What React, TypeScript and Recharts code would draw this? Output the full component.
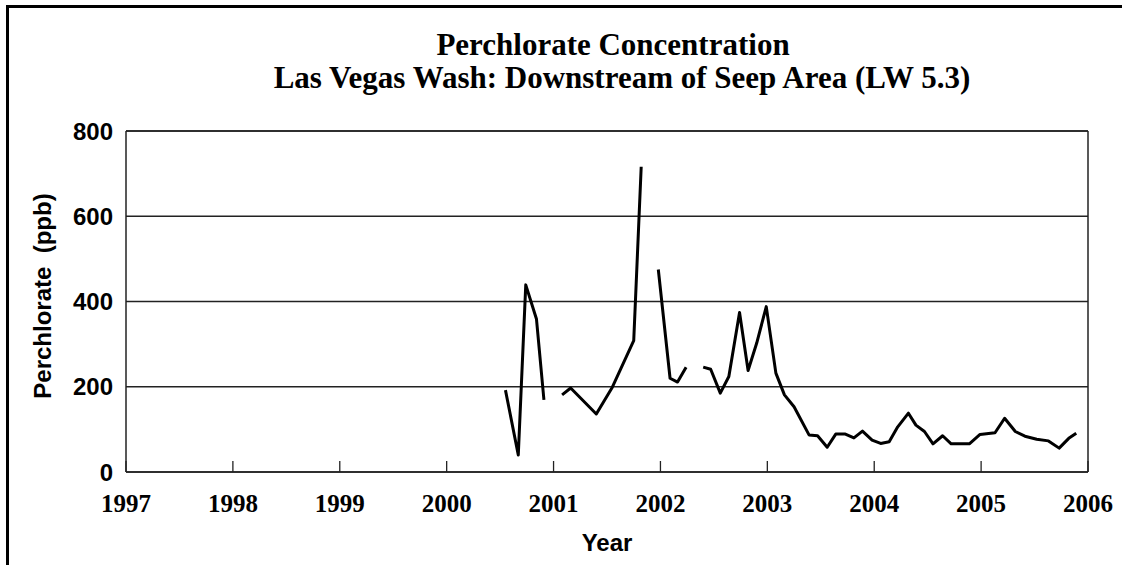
import { LineChart, Line, XAxis, YAxis, CartesianGrid, ReferenceLine } from 'recharts';

// sample dates (decimal year) and perchlorate readings, null = gap in record
const years = [
  2000.55, 2000.67, 2000.74, 2000.84, 2000.91, 2001.0,
  2001.08, 2001.16, 2001.4, 2001.55, 2001.75, 2001.82, 2001.9,
  2001.98, 2002.09, 2002.16, 2002.24, 2002.32,
  2002.4, 2002.47, 2002.56, 2002.64, 2002.74, 2002.82, 2002.9, 2002.99,
  2003.08, 2003.16, 2003.25, 2003.39, 2003.47, 2003.56, 2003.64, 2003.73,
  2003.81, 2003.89, 2003.98, 2004.06, 2004.14, 2004.22, 2004.32, 2004.39,
  2004.47, 2004.55, 2004.64, 2004.72, 2004.89, 2004.99, 2005.13, 2005.22,
  2005.32, 2005.41, 2005.52, 2005.63, 2005.73, 2005.82, 2005.89,
];
const ppb: (number | null)[] = [
  192, 40, 439, 359, 169, null,
  181, 197, 136, 199, 308, 716, null,
  475, 220, 211, 246, null,
  246, 241, 185, 224, 374, 238, 302, 388,
  232, 181, 153, 87, 85, 58, 89, 89,
  80, 96, 75, 67, 71, 106, 138, 110,
  95, 66, 85, 66, 66, 88, 92, 126,
  95, 84, 77, 73, 56, 79, 91,
];

const yearTicks = [1997, 1998, 1999, 2000, 2001, 2002, 2003, 2004, 2005, 2006];
const ppbTicks = [0, 200, 400, 600, 800];
const ppbMinorTicks = [100, 300, 500, 700];

const data = years.map((year, i) => ({ year, ppb: ppb[i] }));

const EmptyTick = () => <g />;

export default function App() {
  return (
    <div style={{ position: 'absolute', left: 0, top: 0, width: 1122, height: 565, background: '#fff' }}>
      {/* cropped outer frame: only top and left edges visible */}
      <div
        style={{
          position: 'absolute', left: 6, top: 5, width: 1116, height: 560,
          borderTop: '3px solid #000', borderLeft: '3px solid #000', boxSizing: 'border-box',
        }}
      />
      <div
        style={{
          position: 'absolute', left: 113, top: 29, width: 1000, textAlign: 'center',
          fontFamily: '"Liberation Serif", serif', fontWeight: 'bold', fontSize: 31, lineHeight: '31px',
        }}
      >
        Perchlorate Concentration
      </div>
      <div
        style={{
          position: 'absolute', left: 122, top: 62, width: 1000, textAlign: 'center',
          fontFamily: '"Liberation Serif", serif', fontWeight: 'bold', fontSize: 31, lineHeight: '31px',
        }}
      >
        Las Vegas Wash: Downstream of Seep Area (LW 5.3)
      </div>
      <div
        style={{
          position: 'absolute', left: 43 - 150, top: 296 - 12, width: 300, height: 24, lineHeight: '24px',
          textAlign: 'center', transform: 'rotate(-90deg)', whiteSpace: 'pre',
          fontFamily: '"Liberation Sans", Arial, sans-serif', fontWeight: 'bold', fontSize: 24,
        }}
      >
        {'Perchlorate  (ppb)'}
      </div>
      <div
        style={{
          position: 'absolute', left: 507, top: 531, width: 200, textAlign: 'center', lineHeight: '24px',
          fontFamily: '"Liberation Sans", Arial, sans-serif', fontWeight: 'bold', fontSize: 24,
        }}
      >
        Year
      </div>

      <div style={{ position: 'absolute', left: 0, top: 0 }}>
        <LineChart width={1122} height={565} data={data} margin={{ top: 131, right: 34, left: 66, bottom: 53 }}>
          <CartesianGrid horizontal vertical={false} stroke="#222" strokeWidth={1.3} />
          <XAxis
            dataKey="year"
            type="number"
            domain={[1997, 2006]}
            ticks={yearTicks}
            interval={0}
            height={40}
            tickLine={false}
            tickMargin={16}
            axisLine={{ stroke: '#222', strokeWidth: 1.5 }}
            tick={{ fill: '#000', fontSize: 25, fontWeight: 'bold', fontFamily: '"Liberation Serif", serif' }}
          />
          <XAxis
            xAxisId="inner"
            dataKey="year"
            type="number"
            domain={[1997, 2006]}
            ticks={yearTicks}
            interval={0}
            mirror
            tickSize={11}
            axisLine={false}
            tickLine={{ stroke: '#222', strokeWidth: 1.3 }}
            tick={EmptyTick}
          />
          <YAxis
            type="number"
            domain={[0, 800]}
            ticks={ppbTicks}
            interval={0}
            width={60}
            tickLine={false}
            tickMargin={7}
            axisLine={{ stroke: '#222', strokeWidth: 1.5 }}
            tick={{ fill: '#000', fontSize: 24, fontWeight: 'bold', fontFamily: '"Liberation Sans", Arial, sans-serif' }}
          />
          <YAxis
            yAxisId="inner"
            type="number"
            domain={[0, 800]}
            ticks={ppbMinorTicks}
            interval={0}
            mirror
            tickSize={6}
            axisLine={false}
            tickLine={{ stroke: '#222', strokeWidth: 1.3 }}
            tick={EmptyTick}
          />
          <ReferenceLine y={800} stroke="#222" strokeWidth={1.5} />
          <ReferenceLine x={2006} stroke="#222" strokeWidth={1.5} />
          <Line
            type="linear"
            dataKey="ppb"
            stroke="#000"
            strokeWidth={3}
            strokeLinejoin="round"
            dot={false}
            activeDot={false}
            isAnimationActive={false}
          />
        </LineChart>
      </div>
    </div>
  );
}
